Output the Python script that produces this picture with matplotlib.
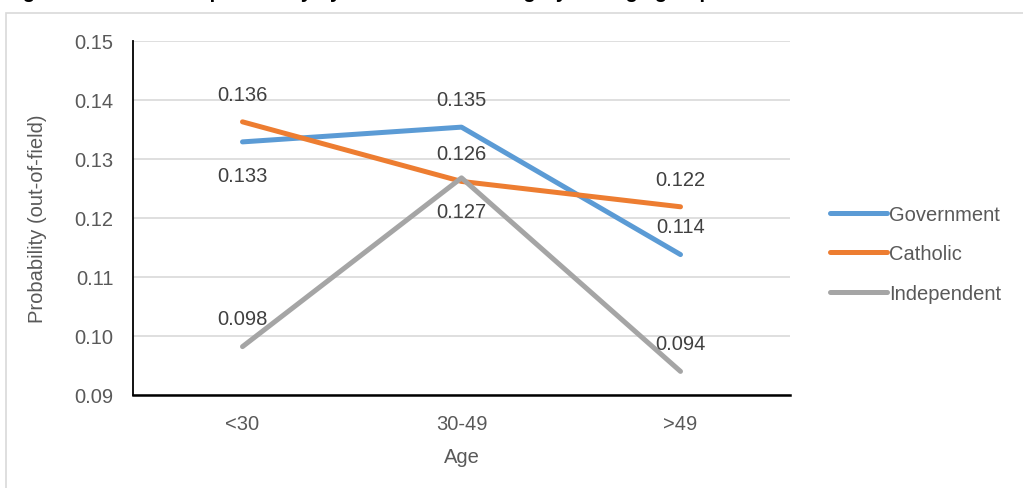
import matplotlib.pyplot as plt
from matplotlib.patches import Rectangle

plt.rcParams['font.family'] = ['Liberation Sans', 'DejaVu Sans']

# Datos
edades = ['<30', '30-49', '>49']
gobierno = [0.1329, 0.1354, 0.1138]
catolico = [0.1363, 0.1262, 0.1219]
independiente = [0.0982, 0.1268, 0.0940]
series = ['Government', 'Catholic', 'Independent']

# Estilo
colores = ['#5B9BD5', '#ED7D31', '#A5A5A5']
# posicion de la etiqueta: 1 arriba, -1 abajo
pos_etiquetas = [[-1, 1, 1], [1, 1, 1], [1, -1, 1]]
gris_texto = '#595959'
tam = 14.5

fig = plt.figure(figsize=(10.23, 4.89), dpi=100)
ax = fig.add_axes([133 / 1023, 1 - 396 / 489, 657 / 1023, 354 / 489])

# Marco del grafico
fig.patches.append(Rectangle((5.5 / 1023, -0.1), 1.1, 1 - 13.5 / 489 + 0.1,
                             transform=fig.transFigure, fill=False,
                             edgecolor='#D9D9D9', linewidth=1.2))

x = range(len(edades))
for valores, nombre, color, pos in zip([gobierno, catolico, independiente],
                                       series, colores, pos_etiquetas):
    ax.plot(x, valores, color=color, linewidth=3.6, label=nombre,
            solid_capstyle='round', solid_joinstyle='round')
    for xi, v, p in zip(x, valores, pos):
        ax.annotate(f'{v:.3f}', (xi, v), xytext=(0, 22 * p - 2),
                    textcoords='offset points', ha='center', va='center',
                    fontsize=tam, color='#404040')

ax.set_xlim(-0.5, 2.5)
ax.set_ylim(0.09, 0.15)
ax.set_yticks([0.09, 0.10, 0.11, 0.12, 0.13, 0.14, 0.15])
ax.yaxis.set_major_formatter(plt.FormatStrFormatter('%.2f'))
ax.set_xticks(list(x))
ax.set_xticklabels(edades)
ax.tick_params(axis='both', length=0, labelsize=tam, labelcolor=gris_texto)
ax.tick_params(axis='x', pad=14)
ax.tick_params(axis='y', pad=14)
ax.grid(axis='y', color='#D9D9D9', linewidth=1.2)
ax.set_axisbelow(True)
for lado in ['top', 'right']:
    ax.spines[lado].set_visible(False)
ax.spines['left'].set_color('black')
ax.spines['bottom'].set_color('black')
ax.spines['left'].set_linewidth(1.3)
ax.spines['bottom'].set_linewidth(1.8)

ax.set_xlabel('Age', fontsize=tam, color=gris_texto, labelpad=10)
ax.set_ylabel('Probability (out-of-field)', fontsize=tam, color=gris_texto,
              labelpad=20)

fig.legend(loc='center left', bbox_to_anchor=(812 / 1023, 1 - 255 / 489),
           frameon=False, fontsize=tam, labelcolor=gris_texto,
           handlelength=2.8, handletextpad=0.12, labelspacing=1.02)

# Titulo cortado en la parte superior
fig.text(5 / 1023, 1 + 2 / 489, 'Figure 2: Out-of-field probability by school sector category and age group',
         fontsize=tam, fontweight='bold', va='baseline', ha='left')

fig.savefig('out.png', dpi=100)
